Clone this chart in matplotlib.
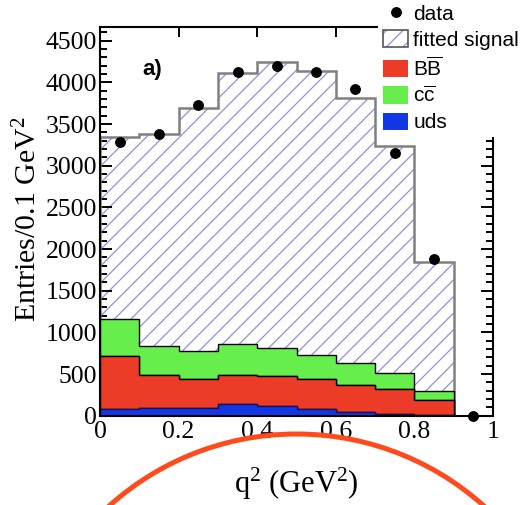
import numpy as np
import matplotlib
matplotlib.use("Agg")
import matplotlib.pyplot as plt
from matplotlib.patches import Patch, Rectangle, Ellipse
from matplotlib.lines import Line2D
from matplotlib.ticker import MultipleLocator

plt.rcParams['mathtext.fontset'] = 'custom'
plt.rcParams['mathtext.rm'] = 'Liberation Serif'
plt.rcParams['mathtext.it'] = 'Liberation Serif:italic'
plt.rcParams['mathtext.sf'] = 'Liberation Sans'
plt.rcParams['hatch.linewidth'] = 0.9

# ---- data ----
bin_edges = [0.0, 0.1, 0.2, 0.3, 0.4, 0.5, 0.6, 0.7, 0.8, 0.9, 1.0]
bin_centers = [0.05, 0.15, 0.25, 0.35, 0.45, 0.55, 0.65, 0.75, 0.85, 0.95]
uds = [75, 88, 95, 140, 120, 80, 50, 25, 12, 0]
bbbar = [641, 400, 342, 348, 356, 357, 318, 292, 176, 0]
ccbar = [444, 348, 343, 369, 333, 291, 261, 192, 112, 0]
signal = [2190, 2539, 2912, 3255, 3441, 3408, 3183, 2727, 1544, 0]
data = [3290, 3380, 3730, 4120, 4200, 4130, 3920, 3150, 1880, 0]
x_ticks = [0, 0.2, 0.4, 0.6, 0.8, 1.0]
x_tick_labels = ["0", "0.2", "0.4", "0.6", "0.8", "1"]
y_ticks = [0, 500, 1000, 1500, 2000, 2500, 3000, 3500, 4000, 4500]

c_red = '#EC3B26'
c_green = '#66EE4C'
c_blue = '#1238E6'
c_hatch = '#9090DE'
c_sig_edge = '#808080'

fig = plt.figure(figsize=(5.25, 5.05), dpi=100)
ax = fig.add_axes([100/525, 1-415.7/505, 393/525, (415.7-26.7)/505])

edges = np.array(bin_edges)
u = np.array(uds, float)
b = u + np.array(bbbar, float)
c = b + np.array(ccbar, float)
t = c + np.array(signal, float)

# fitted signal (hatched)
ax.stairs(t, edges, baseline=0, fill=True, facecolor='white', edgecolor=c_hatch,
          hatch='//', linewidth=0, zorder=1)
ax.stairs(t, edges, baseline=0, fill=False, edgecolor=c_sig_edge, linewidth=1.8, zorder=2)
# backgrounds
ax.stairs(c, edges, baseline=b, fill=True, facecolor=c_green, edgecolor='black', linewidth=1.0, zorder=3)
ax.stairs(b, edges, baseline=u, fill=True, facecolor=c_red, edgecolor='black', linewidth=1.0, zorder=4)
ax.stairs(u, edges, baseline=0, fill=True, facecolor=c_blue, edgecolor='#101060', linewidth=1.0, zorder=5)

ax.plot(bin_centers, data, 'o', color='black', markersize=6.8, zorder=6, clip_on=False)

ax.set_xlim(0, 1)
ax.set_ylim(0, 4668)
ax.set_xticks(x_ticks)
ax.set_xticklabels(x_tick_labels)
ax.set_yticks(y_ticks)
ax.yaxis.set_minor_locator(MultipleLocator(100))

for s in ax.spines.values():
    s.set_linewidth(1.5)
    s.set_zorder(7)

ax.tick_params(axis='both', which='both', direction='in', top=True, right=True, width=1.4)
ax.tick_params(axis='y', which='major', length=8.5, pad=2)
ax.tick_params(axis='y', which='minor', length=4.8)
ax.tick_params(axis='x', which='major', length=7, pad=4)
for lab in ax.get_xticklabels() + ax.get_yticklabels():
    lab.set_fontfamily('Liberation Serif')
    lab.set_fontsize(18.5)

ax.set_xlabel(r"q$^{\mathrm{2}}$ (GeV$^{\mathrm{2}}$)", family='Liberation Serif', fontsize=22)
ax.xaxis.set_label_coords(0.5, -0.128)
ax.set_ylabel(r"Entries/0.1 GeV$^{\mathrm{2}}$", family='Liberation Serif', fontsize=21.5)
ax.yaxis.set_label_coords(-0.146, 0.506)

ax.text(0.132, 4160, 'a)', ha='center', va='center', fontweight='bold',
        family='Liberation Sans', fontsize=16, zorder=8)

# white area behind legend covering the frame corner
fig.add_artist(Rectangle((378/525, 1-137/505), (525-378)/525, 137/505,
                         transform=fig.transFigure, facecolor='white', edgecolor='none', zorder=3))

handles = [
    Line2D([], [], marker='o', color='black', ls='none', markersize=6.8),
    (Patch(facecolor='white', edgecolor=c_hatch, hatch='//', linewidth=0),
     Patch(facecolor='none', edgecolor='#555555', linewidth=1.2)),
    Patch(facecolor=c_red, edgecolor='none'),
    Patch(facecolor=c_green, edgecolor='none'),
    Patch(facecolor=c_blue, edgecolor='none'),
]
labels = ["data", "fitted signal", r"B$\overline{\mathsf{B}}$", r"c$\overline{\mathsf{c}}$", "uds"]
leg = fig.legend(handles, labels, loc='upper left', bbox_to_anchor=(383/525, 1-4/505),
                 bbox_transform=fig.transFigure, frameon=False, borderpad=0, borderaxespad=0,
                 handlelength=1.2, handleheight=0.9, handletextpad=0.25, labelspacing=0.3,
                 prop=dict(family='Liberation Sans', size=15))
leg.set_zorder(5)

# orange-red circle annotation
fig.add_artist(Ellipse((296.5/525, 1-714/505), 2*280/525, 2*280/505,
                       transform=fig.transFigure, facecolor='none', edgecolor='#FF4A1E',
                       linewidth=3.6, zorder=10))

fig.savefig('out.png', dpi=100)
